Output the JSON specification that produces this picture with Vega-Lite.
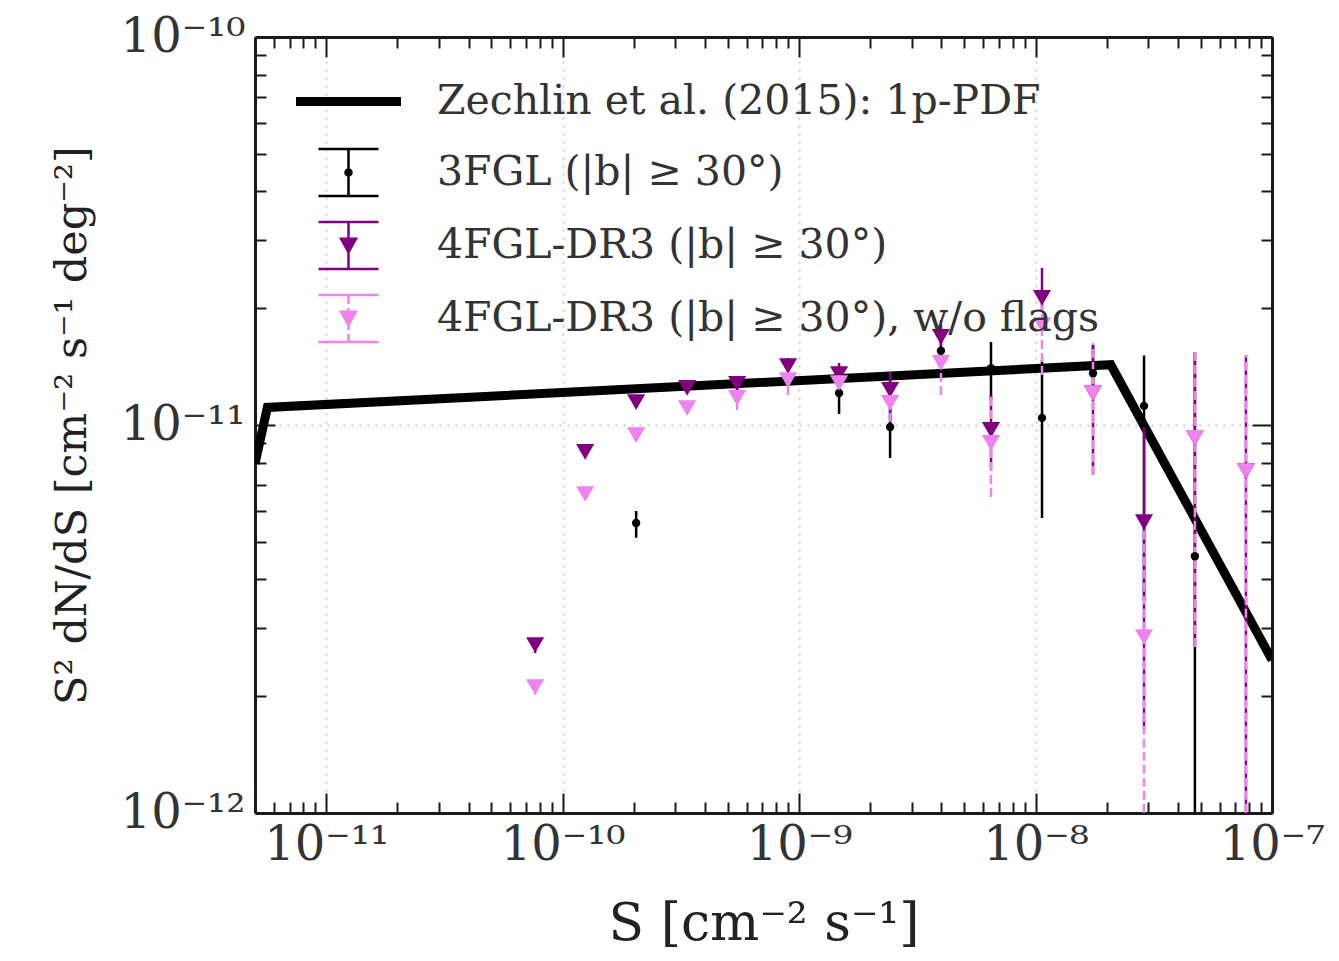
{
  "$schema": "https://vega.github.io/schema/vega-lite/v6.json",
  "width": 1017,
  "height": 776,
  "autosize": {"type": "none"},
  "padding": {"left": 255, "top": 37, "right": 67, "bottom": 148},
  "background": "white",
  "config": {"view": {"stroke": null}, "font": "DejaVu Serif"},
  "datasets": {
    "model": [
      {"S": 5e-12, "v": 7.95e-12},
      {"S": 5.64e-12, "v": 1.11e-11},
      {"S": 2.08e-8, "v": 1.43e-11},
      {"S": 1e-7, "v": 2.48e-12}
    ],
    "pts": [
      {"s": "3FGL (|b| ≥ 30°)", "S": 2.046e-10, "v": 5.59e-12, "lo": 5.12e-12, "hi": 6.0e-12},
      {"s": "3FGL (|b| ≥ 30°)", "S": 1.476e-9, "v": 1.209e-11, "lo": 1.068e-11, "hi": 1.29e-11},
      {"s": "3FGL (|b| ≥ 30°)", "S": 2.426e-9, "v": 9.88e-12, "lo": 8.22e-12, "hi": 1.369e-11},
      {"s": "3FGL (|b| ≥ 30°)", "S": 3.98e-9, "v": 1.553e-11, "lo": 1.453e-11, "hi": 1.637e-11},
      {"s": "3FGL (|b| ≥ 30°)", "S": 6.48e-9, "v": 1.40e-11, "lo": 1.16e-11, "hi": 1.637e-11},
      {"s": "3FGL (|b| ≥ 30°)", "S": 1.065e-8, "v": 1.043e-11, "lo": 5.76e-12, "hi": 1.47e-11},
      {"s": "3FGL (|b| ≥ 30°)", "S": 1.75e-8, "v": 1.36e-11, "lo": 1.19e-11, "hi": 1.61e-11},
      {"s": "3FGL (|b| ≥ 30°)", "S": 2.876e-8, "v": 1.12e-11, "lo": 3.54e-12, "hi": 1.51e-11},
      {"s": "3FGL (|b| ≥ 30°)", "S": 4.72e-8, "v": 4.59e-12, "lo": 5e-13, "hi": 1.543e-11},
      {"s": "4FGL-DR3 (|b| ≥ 30°)", "S": 7.65e-11, "v": 2.71e-12, "lo": 2.585e-12, "hi": 2.79e-12},
      {"s": "4FGL-DR3 (|b| ≥ 30°)", "S": 1.245e-10, "v": 8.52e-12, "lo": 8.4e-12, "hi": 8.6e-12},
      {"s": "4FGL-DR3 (|b| ≥ 30°)", "S": 2.046e-10, "v": 1.146e-11, "lo": 1.13e-11, "hi": 1.16e-11},
      {"s": "4FGL-DR3 (|b| ≥ 30°)", "S": 3.36e-10, "v": 1.246e-11, "lo": 1.22e-11, "hi": 1.27e-11},
      {"s": "4FGL-DR3 (|b| ≥ 30°)", "S": 5.47e-10, "v": 1.276e-11, "lo": 1.24e-11, "hi": 1.31e-11},
      {"s": "4FGL-DR3 (|b| ≥ 30°)", "S": 8.98e-10, "v": 1.419e-11, "lo": 1.37e-11, "hi": 1.488e-11},
      {"s": "4FGL-DR3 (|b| ≥ 30°)", "S": 1.476e-9, "v": 1.353e-11, "lo": 1.30e-11, "hi": 1.445e-11},
      {"s": "4FGL-DR3 (|b| ≥ 30°)", "S": 2.426e-9, "v": 1.231e-11, "lo": 1.03e-11, "hi": 1.369e-11},
      {"s": "4FGL-DR3 (|b| ≥ 30°)", "S": 3.98e-9, "v": 1.686e-11, "lo": 1.561e-11, "hi": 1.865e-11},
      {"s": "4FGL-DR3 (|b| ≥ 30°)", "S": 6.48e-9, "v": 9.71e-12, "lo": 7.66e-12, "hi": 1.195e-11},
      {"s": "4FGL-DR3 (|b| ≥ 30°)", "S": 1.065e-8, "v": 2.125e-11, "lo": 1.979e-11, "hi": 2.539e-11},
      {"s": "4FGL-DR3 (|b| ≥ 30°)", "S": 1.75e-8, "v": 1.209e-11, "lo": 7.43e-12, "hi": 1.608e-11},
      {"s": "4FGL-DR3 (|b| ≥ 30°)", "S": 2.876e-8, "v": 5.62e-12, "lo": 1.637e-12, "hi": 9.88e-12},
      {"s": "4FGL-DR3 (|b| ≥ 30°)", "S": 4.72e-8, "v": 9.26e-12, "lo": 2.68e-12, "hi": 1.543e-11},
      {"s": "4FGL-DR3 (|b| ≥ 30°)", "S": 7.76e-8, "v": 7.61e-12, "lo": 5e-13, "hi": 1.515e-11},
      {"s": "4FGL-DR3 (|b| ≥ 30°), w/o flags", "S": 7.65e-11, "v": 2.11e-12, "lo": 2.02e-12, "hi": 2.2e-12},
      {"s": "4FGL-DR3 (|b| ≥ 30°), w/o flags", "S": 1.245e-10, "v": 6.64e-12, "lo": 6.55e-12, "hi": 6.75e-12},
      {"s": "4FGL-DR3 (|b| ≥ 30°), w/o flags", "S": 2.046e-10, "v": 9.42e-12, "lo": 9.2e-12, "hi": 9.6e-12},
      {"s": "4FGL-DR3 (|b| ≥ 30°), w/o flags", "S": 3.36e-10, "v": 1.106e-11, "lo": 1.07e-11, "hi": 1.14e-11},
      {"s": "4FGL-DR3 (|b| ≥ 30°), w/o flags", "S": 5.47e-10, "v": 1.174e-11, "lo": 1.093e-11, "hi": 1.25e-11},
      {"s": "4FGL-DR3 (|b| ≥ 30°), w/o flags", "S": 8.98e-10, "v": 1.306e-11, "lo": 1.195e-11, "hi": 1.40e-11},
      {"s": "4FGL-DR3 (|b| ≥ 30°), w/o flags", "S": 1.476e-9, "v": 1.283e-11, "lo": 1.22e-11, "hi": 1.35e-11},
      {"s": "4FGL-DR3 (|b| ≥ 30°), w/o flags", "S": 2.426e-9, "v": 1.14e-11, "lo": 1.02e-11, "hi": 1.25e-11},
      {"s": "4FGL-DR3 (|b| ≥ 30°), w/o flags", "S": 3.98e-9, "v": 1.445e-11, "lo": 1.195e-11, "hi": 1.62e-11},
      {"s": "4FGL-DR3 (|b| ≥ 30°), w/o flags", "S": 6.48e-9, "v": 8.99e-12, "lo": 6.52e-12, "hi": 1.195e-11},
      {"s": "4FGL-DR3 (|b| ≥ 30°), w/o flags", "S": 1.065e-8, "v": 1.81e-11, "lo": 1.345e-11, "hi": 2.228e-11},
      {"s": "4FGL-DR3 (|b| ≥ 30°), w/o flags", "S": 1.75e-8, "v": 1.209e-11, "lo": 7.43e-12, "hi": 1.627e-11},
      {"s": "4FGL-DR3 (|b| ≥ 30°), w/o flags", "S": 2.876e-8, "v": 2.84e-12, "lo": 5e-13, "hi": 5.36e-12},
      {"s": "4FGL-DR3 (|b| ≥ 30°), w/o flags", "S": 4.72e-8, "v": 9.26e-12, "lo": 2.68e-12, "hi": 1.543e-11},
      {"s": "4FGL-DR3 (|b| ≥ 30°), w/o flags", "S": 7.76e-8, "v": 7.61e-12, "lo": 5e-13, "hi": 1.515e-11}
    ],
    "legend": [
      {"s": "Zechlin et al. (2015): 1p-PDF"},
      {"s": "3FGL (|b| ≥ 30°)"},
      {"s": "4FGL-DR3 (|b| ≥ 30°)"},
      {"s": "4FGL-DR3 (|b| ≥ 30°), w/o flags"}
    ]
  },
  "resolve": {"axis": {"x": "independent", "y": "independent"}},
  "layer": [
    {
      "data": {"name": "model"},
      "mark": {"type": "line", "stroke": "black", "strokeWidth": 9, "clip": true, "strokeJoin": "miter"},
      "encoding": {
        "x": {
          "field": "S", "type": "quantitative",
          "scale": {"type": "log", "domain": [5e-12, 1e-7], "nice": false, "zero": false},
          "axis": {
            "orient": "bottom",
            "title": "S  [cm⁻² s⁻¹]",
            "values": [6e-12, 7e-12, 8e-12, 9e-12, 1e-11, 2e-11, 3e-11, 4e-11, 5e-11, 6e-11, 7e-11, 8e-11, 9e-11, 1e-10, 2e-10, 3e-10, 4e-10, 5e-10, 6e-10, 7e-10, 8e-10, 9e-10, 1e-9, 2e-9, 3e-9, 4e-9, 5e-9, 6e-9, 7e-9, 8e-9, 9e-9, 1e-8, 2e-8, 3e-8, 4e-8, 5e-8, 6e-8, 7e-8, 8e-8, 9e-8, 1e-7],
            "labelExpr": "abs(log(datum.value)/LN10 - round(log(datum.value)/LN10)) > 0.01 ? '' : round(log(datum.value)/LN10) == -11 ? '10⁻¹¹' : round(log(datum.value)/LN10) == -10 ? '10⁻¹⁰' : round(log(datum.value)/LN10) == -9 ? '10⁻⁹' : round(log(datum.value)/LN10) == -8 ? '10⁻⁸' : '10⁻⁷'",
            "tickSize": {"condition": {"test": "abs(log(datum.value)/LN10 - round(log(datum.value)/LN10)) < 0.01", "value": -20}, "value": -11},
            "tickWidth": 2, "tickColor": "#1a1a1a",
            "domainWidth": 3, "domainColor": "#1a1a1a",
            "grid": true, "gridColor": "#cccccc", "gridDash": [2, 6], "gridWidth": 2,
            "gridOpacity": {"condition": {"test": "abs(log(datum.value)/LN10 - round(log(datum.value)/LN10)) < 0.01", "value": 1}, "value": 0},
            "labelFont": "DejaVu Serif", "labelFontSize": 48, "labelColor": "#333333",
            "labelPadding": 28, "labelFlush": false, "labelOverlap": false, "labelBaseline": "top",
            "titleFont": "DejaVu Serif", "titleFontSize": 52, "titleColor": "#222222", "titleFontWeight": "normal", "titlePadding": 20
          }
        },
        "y": {
          "field": "v", "type": "quantitative",
          "scale": {"type": "log", "domain": [1e-12, 1e-10], "nice": false, "zero": false},
          "axis": {
            "orient": "left",
            "title": "S² dN/dS  [cm⁻² s⁻¹ deg⁻²]",
            "values": [1e-12, 2e-12, 3e-12, 4e-12, 5e-12, 6e-12, 7e-12, 8e-12, 9e-12, 1e-11, 2e-11, 3e-11, 4e-11, 5e-11, 6e-11, 7e-11, 8e-11, 9e-11, 1e-10],
            "labelExpr": "abs(log(datum.value)/LN10 - round(log(datum.value)/LN10)) > 0.01 ? '' : round(log(datum.value)/LN10) == -10 ? '10⁻¹⁰' : round(log(datum.value)/LN10) == -11 ? '10⁻¹¹' : '10⁻¹²'",
            "tickSize": {"condition": {"test": "abs(log(datum.value)/LN10 - round(log(datum.value)/LN10)) < 0.01", "value": -20}, "value": -11},
            "tickWidth": 2, "tickColor": "#1a1a1a",
            "domainWidth": 3, "domainColor": "#1a1a1a",
            "grid": true, "gridColor": "#cccccc", "gridDash": [2, 6], "gridWidth": 2,
            "gridOpacity": {"condition": {"test": "abs(log(datum.value)/LN10 - round(log(datum.value)/LN10)) < 0.01", "value": 1}, "value": 0},
            "labelFont": "DejaVu Serif", "labelFontSize": 48, "labelColor": "#333333",
            "labelPadding": 30, "labelFlush": false, "labelOverlap": false, "labelBaseline": "middle", "labelAlign": "right",
            "titleFont": "DejaVu Serif", "titleFontSize": 43, "titleColor": "#222222", "titleFontWeight": "normal", "titlePadding": 26
          }
        }
      }
    },
    {
      "data": {"name": "pts"},
      "mark": {"type": "rule", "strokeWidth": 2.5, "clip": true},
      "encoding": {
        "x": {
          "field": "S", "type": "quantitative",
          "scale": {"type": "log", "domain": [5e-12, 1e-7], "nice": false, "zero": false},
          "axis": {
            "orient": "top", "title": null, "labels": false, "grid": false,
            "values": [6e-12, 7e-12, 8e-12, 9e-12, 1e-11, 2e-11, 3e-11, 4e-11, 5e-11, 6e-11, 7e-11, 8e-11, 9e-11, 1e-10, 2e-10, 3e-10, 4e-10, 5e-10, 6e-10, 7e-10, 8e-10, 9e-10, 1e-9, 2e-9, 3e-9, 4e-9, 5e-9, 6e-9, 7e-9, 8e-9, 9e-9, 1e-8, 2e-8, 3e-8, 4e-8, 5e-8, 6e-8, 7e-8, 8e-8, 9e-8, 1e-7],
            "tickSize": {"condition": {"test": "abs(log(datum.value)/LN10 - round(log(datum.value)/LN10)) < 0.01", "value": -20}, "value": -11},
            "tickWidth": 2, "tickColor": "#1a1a1a",
            "domainWidth": 3, "domainColor": "#1a1a1a"
          }
        },
        "y": {
          "field": "lo", "type": "quantitative",
          "scale": {"type": "log", "domain": [1e-12, 1e-10], "nice": false, "zero": false},
          "axis": {
            "orient": "right", "title": null, "labels": false, "grid": false,
            "values": [1e-12, 2e-12, 3e-12, 4e-12, 5e-12, 6e-12, 7e-12, 8e-12, 9e-12, 1e-11, 2e-11, 3e-11, 4e-11, 5e-11, 6e-11, 7e-11, 8e-11, 9e-11, 1e-10],
            "tickSize": {"condition": {"test": "abs(log(datum.value)/LN10 - round(log(datum.value)/LN10)) < 0.01", "value": -20}, "value": -11},
            "tickWidth": 2, "tickColor": "#1a1a1a",
            "domainWidth": 3, "domainColor": "#1a1a1a"
          }
        },
        "y2": {"field": "hi"},
        "color": {
          "field": "s", "type": "nominal", "legend": null,
          "scale": {"domain": ["3FGL (|b| ≥ 30°)", "4FGL-DR3 (|b| ≥ 30°)", "4FGL-DR3 (|b| ≥ 30°), w/o flags"], "range": ["#000000", "#800080", "#ee82ee"]}
        },
        "strokeDash": {
          "field": "s", "type": "nominal", "legend": null,
          "scale": {"domain": ["3FGL (|b| ≥ 30°)", "4FGL-DR3 (|b| ≥ 30°)", "4FGL-DR3 (|b| ≥ 30°), w/o flags"], "range": [[1, 0], [1, 0], [9, 4]]}
        }
      }
    },
    {
      "data": {"name": "pts"},
      "transform": [{"filter": "datum.s == '3FGL (|b| ≥ 30°)'"}],
      "mark": {"type": "point", "shape": "circle", "filled": true, "size": 70, "color": "#000000", "opacity": 1, "clip": true},
      "encoding": {
        "x": {"field": "S", "type": "quantitative", "scale": {"type": "log", "domain": [5e-12, 1e-7], "nice": false, "zero": false}, "axis": null},
        "y": {"field": "v", "type": "quantitative", "scale": {"type": "log", "domain": [1e-12, 1e-10], "nice": false, "zero": false}, "axis": null}
      }
    },
    {
      "data": {"name": "pts"},
      "transform": [{"filter": "datum.s != '3FGL (|b| ≥ 30°)'"}],
      "mark": {"type": "point", "shape": "triangle-down", "filled": true, "size": 330, "opacity": 1, "clip": true},
      "encoding": {
        "x": {"field": "S", "type": "quantitative", "scale": {"type": "log", "domain": [5e-12, 1e-7], "nice": false, "zero": false}, "axis": null},
        "y": {"field": "v", "type": "quantitative", "scale": {"type": "log", "domain": [1e-12, 1e-10], "nice": false, "zero": false}, "axis": null},
        "color": {
          "field": "s", "type": "nominal", "legend": null,
          "scale": {"domain": ["3FGL (|b| ≥ 30°)", "4FGL-DR3 (|b| ≥ 30°)", "4FGL-DR3 (|b| ≥ 30°), w/o flags"], "range": ["#000000", "#800080", "#ee82ee"]}
        }
      }
    },
    {
      "data": {"name": "legend"},
      "transform": [{"filter": "false"}],
      "mark": {"type": "point", "filled": true, "opacity": 1},
      "encoding": {
        "fill": {
          "field": "s", "type": "nominal",
          "scale": {"domain": ["Zechlin et al. (2015): 1p-PDF", "3FGL (|b| ≥ 30°)", "4FGL-DR3 (|b| ≥ 30°)", "4FGL-DR3 (|b| ≥ 30°), w/o flags"], "range": ["#000000", "#000000", "#800080", "#ee82ee"]},
          "legend": {
            "title": null, "orient": "none", "legendX": 67, "legendY": 38,
            "symbolSize": 2500, "symbolStrokeWidth": 2.5, "symbolOpacity": 1,
            "labelFont": "DejaVu Serif", "labelFontSize": 41, "labelColor": "#333333",
            "labelOffset": 62, "labelLimit": 1000, "rowPadding": 16, "padding": 0
          }
        },
        "stroke": {
          "field": "s", "type": "nominal",
          "scale": {"domain": ["Zechlin et al. (2015): 1p-PDF", "3FGL (|b| ≥ 30°)", "4FGL-DR3 (|b| ≥ 30°)", "4FGL-DR3 (|b| ≥ 30°), w/o flags"], "range": ["#000000", "#000000", "#800080", "#ee82ee"]}
        },
        "shape": {
          "field": "s", "type": "nominal",
          "scale": {
            "domain": ["Zechlin et al. (2015): 1p-PDF", "3FGL (|b| ≥ 30°)", "4FGL-DR3 (|b| ≥ 30°)", "4FGL-DR3 (|b| ≥ 30°), w/o flags"],
            "range": [
              "M 0 -0.85 M 0 0.85 M -2.05 -0.13 L 2.05 -0.13 L 2.05 0.13 L -2.05 0.13 Z",
              "M -1.2 -0.94 L 1.2 -0.94 M 0 -0.94 L 0 0.94 M -1.2 0.94 L 1.2 0.94 M 0.12 0 A 0.12 0.12 0 1 1 -0.12 0 A 0.12 0.12 0 1 1 0.12 0 Z",
              "M -1.2 -0.94 L 1.2 -0.94 M 0 -0.94 L 0 0.94 M -1.2 0.94 L 1.2 0.94 M -0.3 -0.27 L 0.3 -0.27 L 0 0.27 Z",
              "M -1.2 -0.94 L 1.2 -0.94 M -1.2 0.94 L 1.2 0.94 M 0 -0.94 L 0 -0.58 M 0 -0.42 L 0 -0.06 M 0 0.1 L 0 0.46 M 0 0.62 L 0 0.94 M -0.3 -0.27 L 0.3 -0.27 L 0 0.27 Z"
            ]
          }
        }
      }
    }
  ]
}
